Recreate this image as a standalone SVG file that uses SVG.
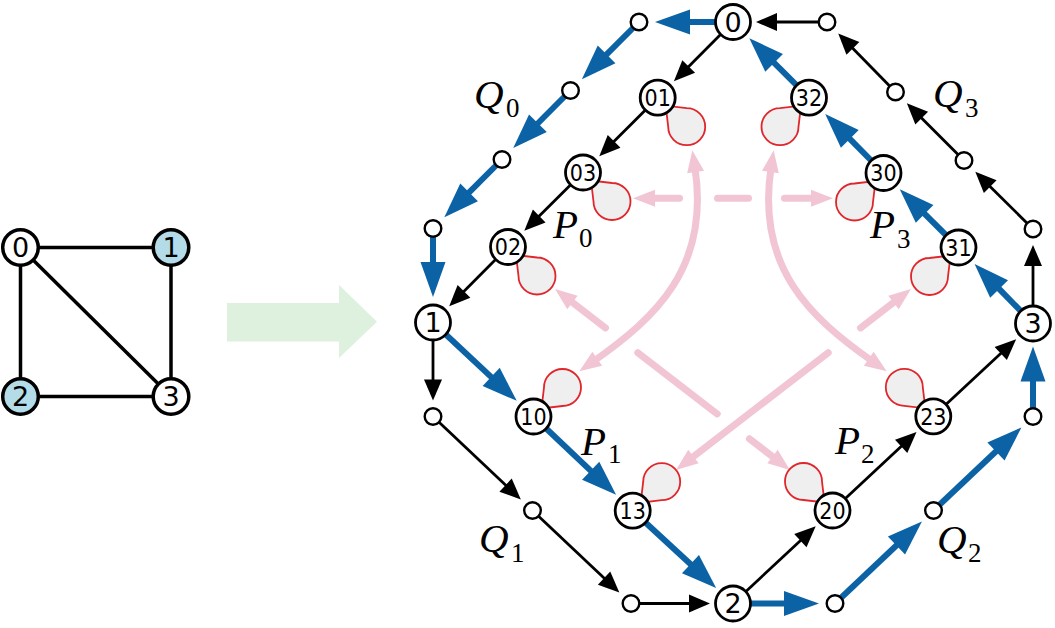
<svg xmlns="http://www.w3.org/2000/svg" xmlns:xlink="http://www.w3.org/1999/xlink" width="1055" height="628" viewBox="0 0 1055 628">
<style>
.ln{fill:none;stroke:#000;stroke-width:2.8}
.bl{fill:none;stroke:#0b63a6;stroke-width:6}
.pk{fill:none;stroke:#f2c5d5;stroke-width:7;stroke-linecap:round}
.big{fill:#fff;stroke:#000;stroke-width:2.8}
.sm{fill:#fff;stroke:#000;stroke-width:2.4}
.gn{fill:#fff;stroke:#000;stroke-width:3.5}
.gb{fill:#b4dce8;stroke:#000;stroke-width:3.5}
.ge{stroke:#000;stroke-width:3.5}
.lab{font-family:'DejaVu Sans',sans-serif;font-size:27px;text-anchor:middle}
.lab2{font-family:'DejaVu Sans Condensed','DejaVu Sans',sans-serif;font-stretch:condensed;font-size:23px;text-anchor:middle}
.it{font-family:'Liberation Serif',serif;font-style:italic;font-size:41px}
.sub{font-family:'Liberation Serif',serif;font-style:normal;font-size:27px}
.loop{fill:#efefef;stroke:#e0262b;stroke-width:1.8}
</style>
<defs>
<marker id="ah" markerUnits="userSpaceOnUse" viewBox="-1 -9 21 18" refX="0" refY="0" markerWidth="21" markerHeight="18" orient="auto" overflow="visible"><path d="M-1,-9 L20,0 L-1,9 Z" fill="#000"/></marker>
<marker id="bh" markerUnits="userSpaceOnUse" viewBox="-1 -12.5 35 25" refX="0" refY="0" markerWidth="35" markerHeight="25" orient="auto" overflow="visible"><path d="M-1,-12.5 L34,0 L-1,12.5 Z" fill="#0b63a6"/></marker>
<marker id="ph" markerUnits="userSpaceOnUse" viewBox="-4 -8.5 22 17" refX="0" refY="0" markerWidth="22" markerHeight="17" orient="auto-start-reverse" overflow="visible"><path d="M-4,-8.5 L18,0 L-4,8.5 Z" fill="#f2c5d5"/></marker>
<path id="lp" d="M8,8 L10.5,29 A18.5,18.5 0 1 0 29,10.5 Z"/>
</defs>

<!-- left graph -->
<g id="left-edges">
<line class="ge" x1="20.5" y1="247.5" x2="171" y2="247.5"/>
<line class="ge" x1="20.5" y1="247.5" x2="20.5" y2="396.5"/>
<line class="ge" x1="171" y1="247.5" x2="171" y2="396.5"/>
<line class="ge" x1="20.5" y1="396.5" x2="171" y2="396.5"/>
<line class="ge" x1="20.5" y1="247.5" x2="171" y2="396.5"/>
</g>
<g id="g0"><circle class="gn" cx="20.5" cy="247.5" r="17.8"/><text class="lab" x="20.5" y="257" font-size="26">0</text></g>
<g id="g1"><circle class="gb" cx="171" cy="247.5" r="17.8"/><text class="lab" x="171" y="257" font-size="26">1</text></g>
<g id="g2"><circle class="gb" cx="20.5" cy="396.5" r="17.8"/><text class="lab" x="20.5" y="406" font-size="26">2</text></g>
<g id="g3"><circle class="gn" cx="171" cy="396.5" r="17.8"/><text class="lab" x="171" y="406" font-size="26">3</text></g>

<g id="big-arrow"><polygon points="227,303 339,303 339,285 377,321.7 339,358 339,341.5 227,341.5" fill="#def0de"/></g>

<!-- connectors -->
<g id="connectors">
<g id="black-edges" class="ln" marker-end="url(#ah)">
<path d="M733,22 L688,67.2"/>
<path d="M657.7,97.7 L613.4,142.1"/>
<path d="M583,172.5 L538.5,216.7"/>
<path d="M508,247 L463.3,292"/>
<path d="M827,22 L776,22"/>
<path d="M895.5,92 L852.2,47.7"/>
<path d="M964,160.5 L921,117.5"/>
<path d="M1033,229 L989.5,185.9"/>
<path d="M1033,323.5 L1033,265"/>
<path d="M433,322.5 L433,380.5"/>
<path d="M433,416.5 L506.3,485.8"/>
<path d="M532.5,510.5 L604.8,578.8"/>
<path d="M631,603.5 L690,603.5"/>
<path d="M733,603.5 L801.1,539.9"/>
<path d="M832.5,510.5 L901.9,445.7"/>
<path d="M933.3,416.3 L1001.5,352.8"/>
</g>
<g id="blue-edges" class="bl" marker-end="url(#bh)">
<path d="M733,22 L689,22"/>
<path d="M639,22 L605.9,55.1"/>
<path d="M570.5,90.5 L537.2,124"/>
<path d="M502,159.5 L468.4,193.1"/>
<path d="M433,228.5 L433,263"/>
<path d="M1033,323.5 L998.4,288.2"/>
<path d="M958.5,247.5 L923.9,213.2"/>
<path d="M883.5,173 L849.1,138.2"/>
<path d="M809,97.7 L773.4,62.2"/>
<path d="M433,322.5 L491.9,377.6"/>
<path d="M533.5,416.5 L591.4,471.4"/>
<path d="M632.7,510.7 L691.2,564.8"/>
<path d="M733,603.5 L785,603.5"/>
<path d="M835,603.5 L897.2,544.8"/>
<path d="M933.5,510.5 L996.7,450.8"/>
<path d="M1033,416.5 L1033,380.5"/>
</g>
<g id="pink-arrows" class="pk">
<path d="M605.5,327.9 L569.3,300" marker-end="url(#ph)"/>
<path d="M637.8,352.7 L717.2,413.9"/>
<path d="M749.4,438.8 L775.7,459" marker-end="url(#ph)"/>
<path d="M860.5,327.9 L896.7,300" marker-end="url(#ph)"/>
<path d="M828.2,352.7 L690.3,459" marker-end="url(#ph)"/>
<path d="M679.5,198.3 L651,198.3" marker-end="url(#ph)"/>
<path d="M717.5,198.3 L748.5,198.3"/>
<path d="M784.5,198.3 L815,198.3" marker-end="url(#ph)"/>
<path d="M695,168 C710,268 655,318 594,361" marker-start="url(#ph)" marker-end="url(#ph)"/>
<path d="M771,168 C756,268 811,318 872,361" marker-start="url(#ph)" marker-end="url(#ph)"/>
</g>
</g>

<!-- nodes -->
<g id="n0"><circle class="big" cx="733" cy="22" r="17.5"/><text class="lab" x="733" y="31.8">0</text></g>
<g id="n1"><circle class="big" cx="433" cy="322.5" r="17.5"/><text class="lab" x="433" y="332.3">1</text></g>
<g id="n2"><circle class="big" cx="733" cy="603.5" r="17.5"/><text class="lab" x="733" y="613.3">2</text></g>
<g id="n3"><circle class="big" cx="1033" cy="323.5" r="17.5"/><text class="lab" x="1033" y="333.3">3</text></g>

<g id="n01"><use xlink:href="#lp" class="loop" transform="translate(657.7,97.7)"/><circle class="big" cx="657.7" cy="97.7" r="17.5"/><text class="lab2" x="657.7" y="106.1">01</text></g>
<g id="n03"><use xlink:href="#lp" class="loop" transform="translate(583,172.5)"/><circle class="big" cx="583" cy="172.5" r="17.5"/><text class="lab2" x="583" y="180.9">03</text></g>
<g id="n02"><use xlink:href="#lp" class="loop" transform="translate(508,247)"/><circle class="big" cx="508" cy="247" r="17.5"/><text class="lab2" x="508" y="255.4">02</text></g>
<g id="n32"><use xlink:href="#lp" class="loop" transform="translate(809,97.7) scale(-1,1)"/><circle class="big" cx="809" cy="97.7" r="17.5"/><text class="lab2" x="809" y="106.1">32</text></g>
<g id="n30"><use xlink:href="#lp" class="loop" transform="translate(883.5,173) scale(-1,1)"/><circle class="big" cx="883.5" cy="173" r="17.5"/><text class="lab2" x="883.5" y="181.4">30</text></g>
<g id="n31"><use xlink:href="#lp" class="loop" transform="translate(958.5,247.5) scale(-1,1)"/><circle class="big" cx="958.5" cy="247.5" r="17.5"/><text class="lab2" x="958.5" y="255.9">31</text></g>
<g id="n10"><use xlink:href="#lp" class="loop" transform="translate(533.5,416.5) scale(1,-1)"/><circle class="big" cx="533.5" cy="416.5" r="17.5"/><text class="lab2" x="533.5" y="424.9">10</text></g>
<g id="n13"><use xlink:href="#lp" class="loop" transform="translate(632.7,510.7) scale(1,-1)"/><circle class="big" cx="632.7" cy="510.7" r="17.5"/><text class="lab2" x="632.7" y="519.1">13</text></g>
<g id="n20"><use xlink:href="#lp" class="loop" transform="translate(832.5,510.5) scale(-1,-1)"/><circle class="big" cx="832.5" cy="510.5" r="17.5"/><text class="lab2" x="832.5" y="518.9">20</text></g>
<g id="n23"><use xlink:href="#lp" class="loop" transform="translate(933.3,416.3) scale(-1,-1)"/><circle class="big" cx="933.3" cy="416.3" r="17.5"/><text class="lab2" x="933.3" y="424.7">23</text></g>

<g id="a1"><circle class="sm" cx="639" cy="22" r="8.3"/></g>
<g id="a2"><circle class="sm" cx="570.5" cy="90.5" r="8.3"/></g>
<g id="a3"><circle class="sm" cx="502" cy="159.5" r="8.3"/></g>
<g id="a4"><circle class="sm" cx="433" cy="228.5" r="8.3"/></g>
<g id="b1"><circle class="sm" cx="827" cy="22" r="8.3"/></g>
<g id="b2"><circle class="sm" cx="895.5" cy="92" r="8.3"/></g>
<g id="b3"><circle class="sm" cx="964" cy="160.5" r="8.3"/></g>
<g id="b4"><circle class="sm" cx="1033" cy="229" r="8.3"/></g>
<g id="c1"><circle class="sm" cx="433" cy="416.5" r="8.3"/></g>
<g id="c2"><circle class="sm" cx="532.5" cy="510.5" r="8.3"/></g>
<g id="c3"><circle class="sm" cx="631" cy="603.5" r="8.3"/></g>
<g id="d1"><circle class="sm" cx="835" cy="603.5" r="8.3"/></g>
<g id="d2"><circle class="sm" cx="933.5" cy="510.5" r="8.3"/></g>
<g id="d3"><circle class="sm" cx="1033" cy="416.5" r="8.3"/></g>

<!-- path labels -->
<g id="labels">
<text><tspan class="it" x="474" y="108">Q</tspan><tspan class="sub" x="506" y="117">0</tspan></text>
<text><tspan class="it" x="553" y="238">P</tspan><tspan class="sub" x="579" y="247">0</tspan></text>
<text><tspan class="it" x="933" y="107">Q</tspan><tspan class="sub" x="965" y="117">3</tspan></text>
<text><tspan class="it" x="870" y="238">P</tspan><tspan class="sub" x="897" y="248">3</tspan></text>
<text><tspan class="it" x="581" y="455">P</tspan><tspan class="sub" x="608" y="463">1</tspan></text>
<text><tspan class="it" x="479" y="552">Q</tspan><tspan class="sub" x="511" y="562">1</tspan></text>
<text><tspan class="it" x="835" y="454">P</tspan><tspan class="sub" x="861" y="463">2</tspan></text>
<text><tspan class="it" x="937" y="553">Q</tspan><tspan class="sub" x="968" y="562">2</tspan></text>
</g>
</svg>
